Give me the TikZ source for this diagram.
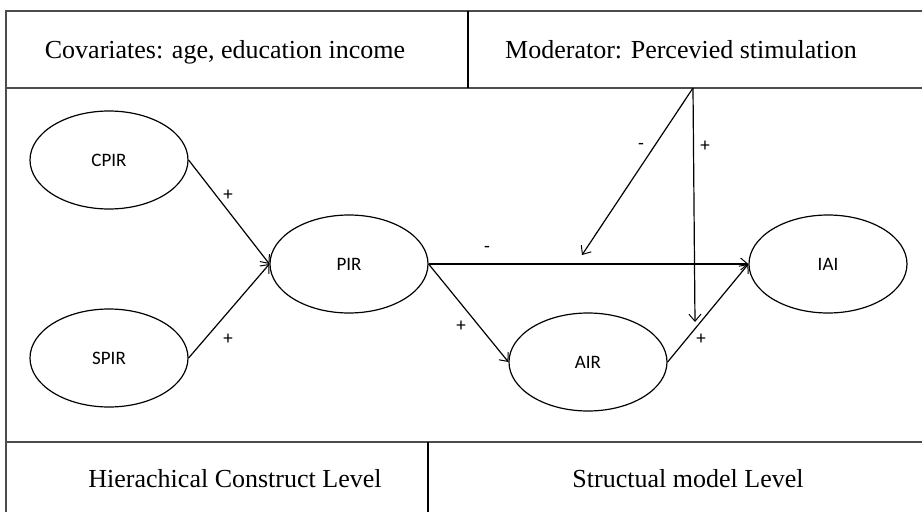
\documentclass[tikz,border=0pt]{standalone}
\usepackage{fontspec}
\setmainfont{Liberation Serif}
\newfontfamily\calib{Carlito}
\usetikzlibrary{shapes.geometric,arrows.meta}
\begin{document}
\begin{tikzpicture}[x=1pt,y=-1pt,
  frame/.style={draw=black!70,line width=1.6pt},
  construct/.style={ellipse,draw,line width=1.2pt,minimum width=158pt,minimum height=98pt,inner sep=0pt,font=\calib\fontsize{19}{21}\selectfont},
  path/.style={draw,line width=1.2pt,-{Straight Barb[length=7pt,width=12pt,line width=1pt]}},
  sign/.style={font=\calib\fontsize{19}{21}\selectfont,inner sep=0pt},
  cell/.style={font=\fontsize{26}{30}\selectfont,anchor=base,inner sep=0pt}]
\useasboundingbox (0,0) rectangle (922,512);
% frame
\draw[frame] (922,11) -- (6,11) -- (6,512);
\draw[frame] (6,88) -- (922,88);
\draw[frame] (6,442) -- (922,442);
\draw[line width=1.2pt] (468,11) -- (468,88);
\draw[line width=1.2pt] (428,442) -- (428,512);
% cell texts
\node[cell] (cov) at (225,58) {Covariates: age, education income};
\node[cell] (mod) at (681,58) {Moderator: Percevied stimulation};
\node[cell] (hier) at (235,487) {Hierachical Construct Level};
\node[cell] (struc) at (688,487) {Structual model Level};
% constructs
\node[construct] (cpir) at (109,160) {CPIR};
\node[construct] (spir) at (109,358) {SPIR};
\node[construct] (pir) at (349,264) {PIR};
\node[construct] (air) at (588,362) {AIR};
\node[construct] (iai) at (828,264) {IAI};
% moderator points
\coordinate (m) at (693,88);
\coordinate (m1) at (582,255);
\coordinate (m2) at (695,322);
% paths
\draw[path] (cpir.east) -- (pir.west);
\draw[path] (spir.east) -- (pir.west);
\draw[path] (pir.east) -- (iai.west);
\draw[path] (pir.east) -- (air.west);
\draw[path] (air.east) -- (iai.west);
\draw[path] (m) -- (m1);
\draw[path] (m) -- (m2);
% signs
\node[sign] (s1) at (228,195) {+};
\node[sign] (s2) at (228,339) {+};
\node[sign] (s3) at (487,249) {-};
\node[sign] (s4) at (461,326) {+};
\node[sign] (s5) at (701,339) {+};
\node[sign] (s6) at (641,146) {-};
\node[sign] (s7) at (705,146) {+};
\end{tikzpicture}
\end{document}
